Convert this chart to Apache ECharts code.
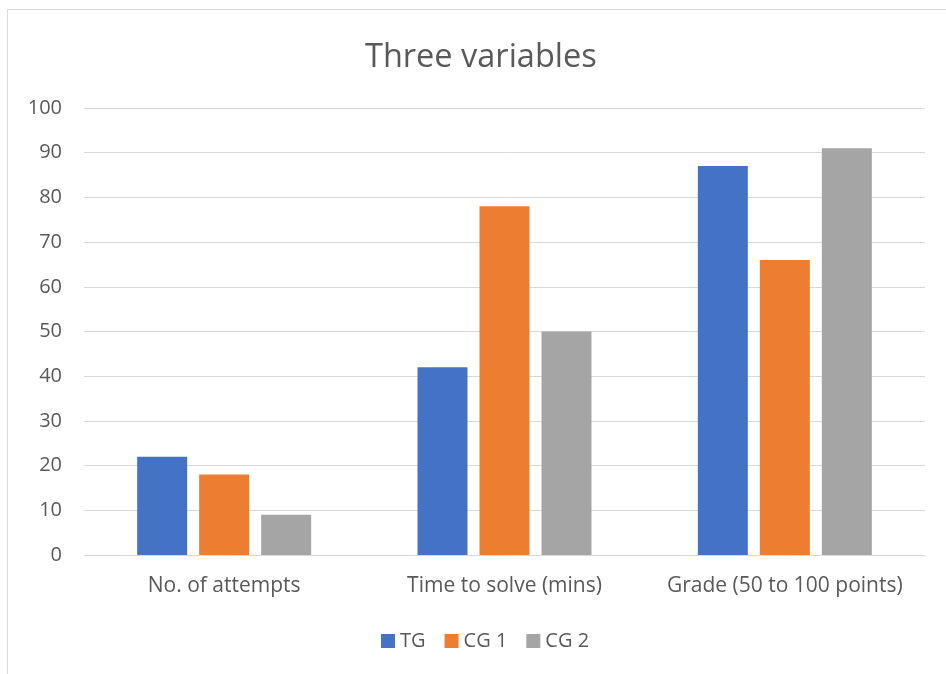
<!DOCTYPE html>
<html><head><meta charset="utf-8">
<script src="https://cdn.jsdelivr.net/npm/echarts@6/dist/echarts.min.js"></script>
<style>html,body{margin:0;padding:0;background:#fff}#c{width:946px;height:674px}</style>
</head><body><div id="c"></div>
<script>
const categories = ['No. of attempts', 'Time to solve (mins)', 'Grade (50 to 100 points)'];
const seriesNames = ['TG', 'CG 1', 'CG 2'];
const tgValues = [22, 42, 87];
const cg1Values = [18, 78, 66];
const cg2Values = [9, 50, 91];
const yTicks = { min: 0, max: 100, interval: 10 };
const colors = ['#4472C4', '#ED7D31', '#A5A5A5'];
const font = 'Open Sans';
const chart = echarts.init(document.getElementById('c'));
const mk = (name, data, i) => ({
  name, type: 'bar', data, barWidth: 50, barGap: '24%',
  itemStyle: { color: colors[i] }
});
chart.setOption({
  animation: false,
  title: { text: 'Three variables', left: 360, top: 36,
    textStyle: { fontFamily: font, fontSize: 32.5, fontWeight: 'normal', color: '#595959' } },
  graphic: [{ type: 'rect', shape: { x: 7.5, y: 9.5, width: 960, height: 700 },
    style: { fill: 'none', stroke: '#D9D9D9', lineWidth: 1 }, silent: true }],
  grid: { left: 84, right: 21, top: 108, bottom: 119, containLabel: false },
  legend: { bottom: 18, left: 376, itemWidth: 14, itemHeight: 14, itemGap: 19,
    icon: 'rect', textStyle: { fontFamily: font, fontSize: 20, color: '#595959' },
    data: seriesNames },
  xAxis: { type: 'category', data: categories,
    axisLine: { lineStyle: { color: '#D9D9D9', width: 1 } }, axisTick: { show: false },
    axisLabel: { interval: 0, hideOverlap: false, fontFamily: font, fontSize: 21, color: '#595959', margin: 21 } },
  yAxis: { type: 'value', min: yTicks.min, max: yTicks.max, interval: yTicks.interval,
    axisLine: { show: false }, axisTick: { show: false },
    splitLine: { lineStyle: { color: '#D9D9D9', width: 1 } },
    axisLabel: { fontFamily: font, fontSize: 20, color: '#595959', margin: 22 } },
  series: [mk(seriesNames[0], tgValues, 0), mk(seriesNames[1], cg1Values, 1), mk(seriesNames[2], cg2Values, 2)]
});
</script></body></html>
